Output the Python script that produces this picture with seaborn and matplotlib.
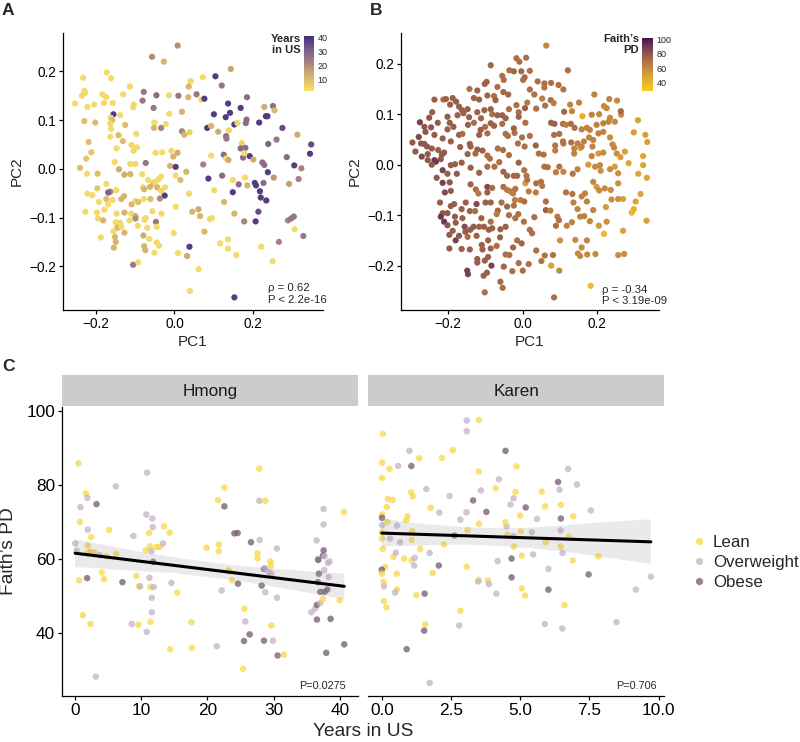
import numpy as np
import pandas as pd
import matplotlib
matplotlib.use("Agg")
import matplotlib.pyplot as plt
import seaborn as sns
from matplotlib.colors import LinearSegmentedColormap, Normalize
from matplotlib.cm import ScalarMappable
from matplotlib.lines import Line2D
from matplotlib.ticker import FuncFormatter

# ---------------- data: panel A (PCoA coloured by years in US) ----------------
pc1_a = [0.008, -0.057, -0.027, 0.143, -0.172, -0.232, -0.161, 0.072, 0.104, 0.041,
         0.036, 0.120, -0.113, -0.229, -0.227, -0.078, -0.235, -0.183, -0.173, -0.130,
         -0.046, -0.014, 0.010, 0.035, 0.056, 0.068, 0.076, 0.184, -0.253, -0.221,
         -0.204, -0.179, -0.157, -0.105, -0.103, -0.081, -0.053, 0.019, -0.013, -0.155,
         -0.138, -0.162, -0.158, -0.229, -0.201, -0.163, -0.125, -0.161, -0.163, -0.142,
         -0.097, -0.051, -0.052, -0.034, -0.022, 0.100, 0.136, 0.168, 0.141, 0.130,
         0.152, 0.160, 0.183, 0.181, 0.228, 0.250, 0.254, 0.232, 0.236, 0.215,
         0.274, 0.083, 0.093, 0.111, 0.138, 0.019, 0.025, 0.038, 0.131, 0.132,
         0.171, 0.168, 0.180, 0.238, 0.259, 0.312, 0.347, 0.344, -0.218, -0.131,
         -0.109, -0.095, -0.147, -0.104, -0.211, -0.224, -0.073, -0.048, -0.031, -0.008,
         0.008, -0.003, -0.112, -0.099, -0.240, -0.152, -0.141, -0.127, -0.112, -0.222,
         -0.195, -0.011, 0.003, 0.030, 0.003, 0.015, -0.082, -0.067, -0.053, -0.049,
         -0.040, -0.034, -0.044, -0.034, -0.025, -0.024, 0.073, 0.093, 0.125, 0.131,
         0.137, 0.174, 0.177, 0.191, 0.200, 0.223, 0.228, 0.237, 0.252, 0.285,
         0.304, 0.322, 0.315, 0.291, 0.086, 0.121, 0.148, 0.179, 0.185, 0.163,
         0.148, 0.204, 0.207, 0.226, 0.217, 0.219, 0.233, 0.101, 0.037, 0.126,
         -0.080, -0.077, -0.062, -0.221, -0.209, -0.196, -0.173, -0.169, -0.163, -0.168,
         -0.148, -0.128, -0.135, -0.157, -0.192, -0.173, -0.168, -0.109, -0.099, -0.092,
         -0.078, -0.061, -0.037, -0.226, -0.197, -0.178, -0.147, -0.127, -0.110, -0.099,
         -0.099, -0.073, -0.056, -0.033, 0.003, 0.045, 0.061, 0.065, 0.095, 0.090,
         0.152, 0.213, 0.206, 0.177, -0.194, -0.181, -0.149, -0.138, -0.114, -0.076,
         -0.047, -0.045, -0.069, -0.093, -0.145, -0.135, -0.127, -0.155, -0.187, -0.151,
         -0.149, -0.079, -0.064, -0.045, -0.039, -0.077, -0.074, -0.051, -0.154, -0.002,
         0.076, 0.136, 0.116, 0.136, 0.157, 0.220, 0.265, 0.288, 0.296, 0.303,
         0.305, 0.327, 0.009, 0.032, 0.038, -0.105, -0.092, 0.061, 0.039, 0.152,
         0.249]
pc2_a = [0.253, 0.230, 0.220, 0.205, 0.198, 0.187, 0.186, 0.188, 0.190, 0.180,
         0.169, 0.171, 0.169, 0.160, 0.156, 0.158, 0.150, 0.153, 0.147, 0.153,
         0.151, 0.151, 0.150, 0.147, 0.153, 0.142, 0.144, 0.147, 0.134, 0.127,
         0.132, 0.135, 0.135, 0.126, 0.132, 0.140, 0.125, 0.117, 0.113, 0.112,
         0.110, 0.105, 0.100, 0.098, 0.095, 0.093, 0.090, 0.082, 0.066, 0.069,
         0.072, 0.095, 0.084, 0.084, 0.092, 0.112, 0.134, 0.125, 0.115, 0.106,
         0.091, 0.094, 0.101, 0.094, 0.127, 0.129, 0.120, 0.108, 0.108, 0.095,
         0.084, 0.084, 0.088, 0.076, 0.079, 0.077, 0.070, 0.075, 0.067, 0.062,
         0.053, 0.042, 0.043, 0.051, 0.060, 0.070, 0.050, 0.031, 0.055, 0.057,
         0.049, 0.044, 0.042, 0.037, 0.034, 0.021, 0.012, 0.033, 0.034, 0.037,
         0.033, 0.025, 0.010, 0.010, 0.002, 0.014, -0.001, -0.012, -0.011, -0.010,
         -0.010, 0.006, 0.004, -0.006, -0.014, -0.023, -0.011, -0.023, -0.029, -0.027,
         -0.021, -0.016, -0.038, -0.045, -0.055, -0.038, 0.009, 0.027, 0.029, 0.021,
         0.018, 0.023, 0.032, 0.026, 0.019, 0.013, 0.008, -0.007, -0.018, 0.024,
         0.007, 0.001, -0.021, -0.031, -0.020, -0.014, -0.023, -0.018, -0.034, -0.032,
         -0.048, -0.029, -0.034, -0.029, -0.046, -0.059, -0.065, -0.044, -0.051, -0.068,
         -0.038, -0.042, -0.037, -0.051, -0.054, -0.040, -0.031, -0.047, -0.047, -0.049,
         -0.044, -0.056, -0.062, -0.064, -0.068, -0.062, -0.073, -0.073, -0.066, -0.068,
         -0.062, -0.062, -0.061, -0.088, -0.090, -0.084, -0.092, -0.090, -0.092, -0.097,
         -0.102, -0.101, -0.087, -0.092, -0.078, -0.088, -0.083, -0.097, -0.101, -0.103,
         -0.092, -0.088, -0.108, -0.108, -0.102, -0.106, -0.110, -0.111, -0.106, -0.105,
         -0.109, -0.119, -0.121, -0.117, -0.121, -0.119, -0.131, -0.128, -0.141, -0.140,
         -0.150, -0.137, -0.144, -0.151, -0.158, -0.159, -0.167, -0.172, -0.162, -0.132,
         -0.129, -0.145, -0.153, -0.164, -0.177, -0.160, -0.150, -0.106, -0.102, -0.098,
         -0.124, -0.138, -0.173, -0.179, -0.160, -0.197, -0.192, -0.206, -0.251, -0.264,
         -0.190]
years_a = [20, 20, 12, 15, 3, 3, 3, 3, 38, 4,
           12, 25, 3, 3, 3, 25, 3, 3, 3, 3,
           28, 3, 25, 12, 25, 3, 38, 28, 3, 3,
           3, 3, 3, 3, 3, 25, 25, 12, 3, 38,
           3, 3, 10, 10, 10, 3, 10, 3, 3, 10,
           3, 3, 12, 22, 3, 38, 38, 38, 38, 38,
           38, 4, 28, 28, 14, 28, 12, 38, 38, 38,
           35, 38, 12, 14, 4, 22, 12, 5, 28, 25,
           4, 28, 28, 30, 25, 14, 35, 38, 10, 10,
           3, 3, 3, 3, 8, 8, 25, 3, 3, 3,
           14, 12, 3, 3, 10, 3, 14, 14, 12, 3,
           10, 12, 38, 12, 3, 10, 3, 3, 10, 3,
           3, 3, 12, 4, 38, 3, 22, 3, 28, 3,
           14, 28, 3, 38, 14, 28, 28, 38, 18, 28,
           38, 22, 22, 16, 38, 28, 3, 3, 12, 28,
           38, 38, 38, 28, 38, 38, 38, 3, 3, 12,
           3, 12, 12, 3, 3, 8, 3, 3, 22, 30,
           3, 12, 12, 3, 3, 10, 3, 12, 3, 10,
           3, 10, 20, 3, 3, 3, 3, 12, 3, 12,
           20, 3, 3, 3, 3, 12, 14, 12, 3, 3,
           12, 35, 38, 22, 3, 12, 3, 3, 3, 3,
           25, 3, 3, 3, 12, 3, 12, 3, 3, 12,
           12, 14, 3, 3, 3, 12, 12, 3, 12, 3,
           12, 3, 3, 3, 3, 3, 22, 22, 25, 25,
           3, 25, 3, 14, 38, 25, 3, 3, 3, 38,
           3]

# ---------------- data: panel B (PCoA coloured by Faith's PD) ----------------
pc1_b = [0.063, -0.017, 0.009, -0.009, -0.086, 0.121, -0.036, -0.024, -0.004, 0.019,
         -0.055, 0.005, 0.001, -0.051, -0.097, -0.102, 0.040, 0.058, 0.058, 0.076,
         0.096, -0.143, -0.122, -0.068, -0.052, -0.039, 0.019, 0.109, 0.192, -0.077,
         -0.095, -0.073, -0.131, -0.117, -0.188, -0.237, -0.213, -0.206, -0.179, 0.031,
         0.052, 0.075, 0.151, 0.232, 0.253, 0.127, 0.218, 0.225, -0.195, -0.171,
         -0.163, -0.148, -0.122, -0.103, -0.086, -0.082, -0.068, -0.055, -0.037, -0.017,
         0.012, 0.006, 0.036, 0.060, 0.083, -0.243, -0.202, -0.175, -0.159, -0.144,
         -0.112, -0.046, -0.011, -0.011, 0.111, 0.132, 0.160, 0.185, 0.205, 0.234,
         0.264, 0.263, 0.309, -0.276, -0.251, -0.228, -0.196, -0.186, -0.147, -0.131,
         -0.113, -0.101, -0.086, -0.077, -0.055, -0.024, 0.007, 0.076, 0.085, 0.108,
         0.116, 0.129, 0.139, 0.158, 0.172, 0.180, 0.198, 0.216, 0.230, 0.247,
         -0.264, -0.246, -0.261, -0.237, -0.215, -0.202, -0.171, -0.162, -0.117, -0.095,
         -0.046, -0.040, -0.022, -0.002, 0.019, 0.084, 0.098, 0.108, 0.130, 0.147,
         0.154, 0.164, 0.178, 0.189, 0.203, 0.216, 0.234, 0.298, 0.329, 0.334,
         -0.296, -0.279, -0.273, -0.264, -0.257, -0.288, -0.271, -0.255, -0.244, -0.227,
         -0.217, -0.211, -0.193, -0.168, -0.142, -0.140, -0.122, -0.127, -0.108, -0.148,
         -0.095, -0.088, -0.067, -0.053, -0.037, -0.013, 0.005, 0.035, 0.043, 0.056,
         0.087, 0.087, 0.109, 0.138, 0.138, 0.158, 0.187, 0.185, 0.203, 0.216,
         0.241, 0.245, 0.252, 0.274, 0.262, 0.323, -0.255, -0.237, -0.233, -0.220,
         -0.244, -0.215, -0.193, -0.182, -0.164, -0.202, -0.177, -0.140, -0.117, -0.095,
         -0.076, -0.063, -0.011, 0.004, -0.052, -0.042, -0.024, -0.015, 0.010, 0.058,
         0.067, 0.089, 0.098, 0.109, 0.134, 0.147, 0.176, 0.194, 0.207, 0.209,
         0.234, 0.256, 0.247, 0.284, 0.323, 0.310, 0.333, -0.231, -0.215, -0.196,
         -0.140, -0.126, -0.119, -0.095, -0.095, -0.082, -0.052, -0.042, -0.033, -0.026,
         -0.020, 0.007, 0.012, 0.036, 0.049, 0.052, 0.016, 0.035, -0.006, 0.004,
         -0.021, -0.024, -0.042, -0.057, -0.086, -0.100, -0.124, -0.153, -0.164, -0.184,
         -0.193, -0.222, -0.209, -0.193, -0.215, -0.220, -0.211, -0.202, -0.182, -0.162,
         -0.142, -0.128, -0.111, -0.086, -0.067, -0.070, -0.037, -0.020, -0.012, 0.003,
         0.031, 0.062, 0.062, 0.074, 0.093, 0.097, 0.089, 0.116, 0.133, 0.136,
         0.147, 0.167, 0.172, 0.189, 0.189, 0.198, 0.205, 0.220, 0.236, 0.256,
         0.269, 0.256, 0.238, 0.223, 0.225, 0.204, 0.180, 0.165, 0.154, 0.132,
         0.118, 0.158, 0.303, 0.298, 0.292, 0.316, 0.332, 0.269, 0.218, -0.202,
         -0.180, -0.156, -0.154, -0.141, -0.132, -0.117, -0.104, -0.091, -0.060, -0.046,
         -0.061, -0.082, -0.124, -0.148, -0.188, -0.197, -0.180, -0.171, -0.197, -0.164,
         -0.142, -0.110, -0.108, -0.093, -0.086, -0.070, -0.046, -0.036, -0.026, -0.015,
         -0.003, 0.019, 0.025, 0.036, 0.059, 0.081, 0.050, 0.100, 0.141, 0.148,
         0.154, 0.158, 0.172, 0.173, 0.195, 0.256, 0.272, 0.076, 0.098, 0.016,
         -0.011, 0.000, -0.028, -0.051, -0.093, -0.102, -0.084, -0.122, -0.122, -0.149,
         -0.147, -0.105, -0.096, -0.060, -0.054, -0.102, 0.084, 0.182]
pc2_b = [0.236, 0.211, 0.212, 0.204, 0.197, 0.187, 0.187, 0.185, 0.185, 0.186,
         0.176, 0.173, 0.168, 0.168, 0.164, 0.160, 0.165, 0.161, 0.153, 0.162,
         0.158, 0.150, 0.147, 0.154, 0.144, 0.139, 0.149, 0.149, 0.139, 0.136,
         0.137, 0.128, 0.132, 0.129, 0.132, 0.129, 0.129, 0.130, 0.125, 0.139,
         0.131, 0.128, 0.123, 0.130, 0.127, 0.119, 0.116, 0.112, 0.119, 0.115,
         0.108, 0.110, 0.104, 0.108, 0.110, 0.100, 0.098, 0.098, 0.110, 0.118,
         0.123, 0.112, 0.111, 0.117, 0.122, 0.104, 0.095, 0.098, 0.102, 0.094,
         0.092, 0.092, 0.104, 0.095, 0.105, 0.106, 0.096, 0.099, 0.100, 0.093,
         0.099, 0.106, 0.088, 0.084, 0.093, 0.083, 0.083, 0.075, 0.079, 0.083,
         0.069, 0.075, 0.082, 0.077, 0.081, 0.072, 0.083, 0.083, 0.081, 0.081,
         0.079, 0.081, 0.073, 0.070, 0.073, 0.069, 0.079, 0.082, 0.085, 0.085,
         0.075, 0.074, 0.065, 0.059, 0.052, 0.070, 0.059, 0.061, 0.059, 0.062,
         0.061, 0.057, 0.063, 0.054, 0.057, 0.059, 0.061, 0.046, 0.044, 0.042,
         0.033, 0.046, 0.054, 0.049, 0.062, 0.065, 0.054, 0.064, 0.059, 0.045,
         0.044, 0.055, 0.042, 0.041, 0.036, 0.026, 0.016, 0.021, 0.032, 0.029,
         0.020, 0.024, 0.046, 0.035, 0.041, 0.036, 0.030, 0.022, 0.028, 0.021,
         0.018, 0.012, 0.032, 0.029, 0.019, 0.042, 0.036, 0.038, 0.022, 0.020,
         0.038, 0.028, 0.042, 0.032, 0.022, 0.036, 0.036, 0.017, 0.022, 0.024,
         0.040, 0.034, 0.022, 0.026, 0.015, 0.017, 0.009, 0.009, 0.006, 0.011,
         0.000, -0.011, -0.001, 0.001, 0.004, -0.018, -0.018, -0.006, -0.016, -0.004,
         -0.004, 0.005, 0.004, -0.011, -0.014, -0.022, -0.022, -0.022, -0.022, -0.004,
         -0.005, -0.015, -0.004, -0.014, -0.018, -0.009, 0.000, -0.004, -0.001, -0.012,
         -0.009, -0.017, -0.004, 0.003, -0.001, -0.018, -0.026, -0.026, -0.036, -0.035,
         -0.039, -0.049, -0.057, -0.044, -0.055, -0.046, -0.044, -0.050, -0.053, -0.057,
         -0.048, -0.037, -0.030, -0.037, -0.034, -0.042, -0.053, -0.055, -0.070, -0.073,
         -0.070, -0.081, -0.083, -0.075, -0.075, -0.075, -0.078, -0.075, -0.088, -0.078,
         -0.082, -0.075, -0.055, -0.052, -0.096, -0.103, -0.113, -0.096, -0.103, -0.106,
         -0.092, -0.092, -0.106, -0.113, -0.091, -0.098, -0.100, -0.106, -0.098, -0.113,
         -0.104, -0.073, -0.090, -0.091, -0.103, -0.110, -0.121, -0.055, -0.058, -0.075,
         -0.088, -0.057, -0.073, -0.090, -0.034, -0.044, -0.051, -0.047, -0.050, -0.037,
         -0.068, -0.068, -0.069, -0.084, -0.113, -0.121, -0.112, -0.102, -0.103, -0.114,
         -0.121, -0.063, -0.073, -0.088, -0.095, -0.058, -0.111, -0.131, -0.137, -0.120,
         -0.115, -0.123, -0.133, -0.129, -0.123, -0.123, -0.123, -0.129, -0.128, -0.123,
         -0.144, -0.126, -0.141, -0.143, -0.131, -0.139, -0.150, -0.141, -0.166, -0.167,
         -0.168, -0.159, -0.168, -0.150, -0.166, -0.161, -0.178, -0.179, -0.164, -0.150,
         -0.156, -0.129, -0.136, -0.170, -0.180, -0.179, -0.191, -0.150, -0.149, -0.176,
         -0.181, -0.164, -0.150, -0.178, -0.177, -0.179, -0.177, -0.200, -0.210, -0.197,
         -0.195, -0.210, -0.211, -0.202, -0.183, -0.190, -0.200, -0.187, -0.194, -0.210,
         -0.217, -0.220, -0.214, -0.232, -0.244, -0.253, -0.263, -0.240]
pd_b = [62, 70, 70, 70, 74, 70, 70, 74, 74, 70,
        70, 74, 70, 70, 76, 76, 70, 70, 68, 70,
        70, 70, 76, 70, 74, 74, 70, 68, 62, 71,
        74, 76, 76, 76, 76, 76, 71, 76, 77, 70,
        64, 70, 62, 62, 60, 62, 60, 60, 77, 77,
        77, 76, 76, 76, 76, 71, 76, 76, 71, 70,
        66, 76, 70, 70, 64, 78, 78, 77, 77, 77,
        76, 76, 71, 76, 74, 62, 44, 62, 60, 60,
        58, 73, 50, 88, 80, 78, 78, 78, 77, 71,
        77, 71, 76, 76, 71, 76, 70, 76, 76, 70,
        64, 70, 70, 62, 62, 62, 62, 62, 62, 60,
        80, 80, 80, 78, 78, 77, 77, 71, 76, 71,
        70, 70, 70, 70, 70, 70, 70, 70, 70, 64,
        46, 62, 62, 62, 62, 62, 60, 52, 50, 50,
        80, 85, 80, 80, 80, 80, 85, 80, 78, 78,
        80, 80, 77, 77, 77, 76, 76, 73, 76, 77,
        71, 70, 70, 70, 70, 70, 70, 76, 70, 70,
        68, 64, 68, 62, 62, 62, 62, 62, 54, 60,
        60, 60, 58, 50, 52, 48, 80, 91, 91, 80,
        80, 88, 78, 78, 77, 78, 78, 77, 77, 71,
        71, 71, 76, 68, 74, 74, 74, 74, 68, 70,
        70, 64, 68, 62, 68, 62, 52, 60, 60, 58,
        58, 58, 52, 48, 48, 48, 48, 80, 88, 80,
        76, 71, 66, 85, 76, 71, 71, 66, 64, 64,
        68, 52, 68, 70, 70, 66, 64, 64, 64, 70,
        64, 70, 74, 71, 76, 76, 85, 77, 77, 77,
        78, 78, 85, 78, 80, 91, 91, 80, 78, 77,
        76, 71, 76, 71, 74, 66, 70, 70, 70, 70,
        70, 70, 76, 64, 64, 70, 70, 68, 68, 62,
        62, 62, 62, 62, 60, 54, 60, 60, 58, 58,
        50, 58, 58, 52, 58, 54, 60, 62, 62, 62,
        62, 62, 48, 42, 40, 48, 50, 50, 38, 80,
        78, 85, 78, 78, 78, 77, 77, 77, 76, 76,
        76, 76, 77, 71, 78, 78, 88, 80, 78, 77,
        77, 77, 77, 76, 76, 71, 71, 71, 74, 71,
        74, 70, 70, 70, 68, 68, 68, 56, 60, 60,
        60, 60, 62, 60, 60, 58, 58, 50, 60, 70,
        70, 70, 71, 74, 77, 77, 88, 78, 78, 88,
        88, 77, 77, 74, 71, 71, 70, 36]

# ---------------- data: panel C (Faith's PD vs years in US) ----------------
hmong_years = [0.55, 0.85, 0.75, 1.66, 1.91, 3.27, 1.96, 2.46, 1.96, 2.26,
               2.76, 0.05, 0.25, 1.86, 3.07, 3.77, 0.65, 1.86, 1.21, 2.36,
               3.17, 4.07, 4.42, 4.82, 5.18, 6.18, 6.23, 7.19, 8.84, 9.30,
               9.70, 9.85, 8.59, 9.60, 10.80, 11.21, 11.71, 11.76, 11.31, 11.56,
               10.70, 11.81, 11.26, 11.41, 11.91, 11.61, 11.61, 11.41, 10.85, 10.90,
               12.31, 12.86, 13.32, 13.47, 14.32, 14.57, 15.43, 14.37, 17.59, 17.64,
               19.90, 21.61, 21.71, 21.71, 22.56, 22.56, 23.37, 23.17, 22.16, 21.41,
               23.72, 24.07, 24.57, 24.62, 25.58, 25.73, 26.38, 25.53, 25.38, 26.58,
               27.54, 27.59, 27.89, 27.84, 27.84, 28.74, 28.54, 28.69, 28.19, 28.74,
               28.54, 29.25, 29.50, 29.60, 29.65, 29.65, 29.90, 30.50, 30.50, 30.60,
               31.56, 35.68, 36.28, 36.53, 36.48, 36.68, 36.73, 36.83, 36.68, 37.04,
               37.04, 36.53, 37.54, 37.54, 37.54, 37.44, 37.69, 37.64, 37.69, 37.44,
               38.19, 38.29, 38.09, 38.44, 38.59, 37.94, 39.95, 40.60, 40.65]
hmong_pd = [85.7, 73.9, 69.9, 77.6, 76.4, 74.7, 67.8, 65.8, 63.5, 61.7,
            61.7, 64.1, 62.1, 61.4, 61.4, 60.9, 54.1, 54.7, 44.7, 42.3,
            28.1, 56.2, 54.4, 60.6, 67.7, 79.5, 61.2, 53.6, 66.1, 55.3,
            52.5, 52.5, 42.3, 42.1, 71.9, 66.9, 70.8, 68.5, 63.3, 62.0,
            62.2, 59.1, 54.8, 52.3, 52.3, 49.4, 45.5, 42.9, 40.2, 83.2,
            63.1, 63.2, 64.1, 68.7, 67.0, 53.4, 50.8, 35.5, 42.8, 35.9,
            62.9, 75.8, 63.8, 62.0, 79.2, 74.1, 56.5, 56.8, 51.4, 36.3,
            54.1, 66.8, 66.9, 53.2, 46.4, 43.0, 39.5, 37.7, 30.2, 64.4,
            61.4, 60.0, 65.0, 75.6, 84.3, 75.6, 57.2, 57.4, 52.7, 50.9,
            37.8, 56.4, 59.2, 58.1, 55.9, 41.9, 37.8, 62.7, 49.4, 33.8,
            34.0, 45.5, 46.5, 47.5, 64.9, 59.9, 59.6, 55.9, 53.6, 51.0,
            48.0, 43.5, 73.4, 69.2, 62.2, 60.8, 60.6, 56.9, 51.0, 49.1,
            58.8, 55.0, 51.6, 59.2, 43.7, 34.5, 48.7, 72.6, 36.8]
hmong_bmi = list("LOLLOBOLLO" "LOOLLOLBLL" "OLLLLOLBOL" "LOOLOLOOLO"
                 "LBOLOOOLOO" "LLOLLOLLLL" "LLLLLBLLOO" "LBBBLOBBLB"
                 "LLOOLLBOBO" "BOLLOLOOOB" "LOOBOOBBBB" "OBOOBBOOBL" "OOBOBBLLB")

karen_years = [0.04, 0.01, 0.01, 0.28, 0.59, 1.00, 1.07, 1.35, 2.18, 2.57,
               3.07, 3.07, 3.51, 4.47, 3.51, 4.87, 4.23, 4.11, 3.58, 1.61,
               2.45, 1.06, 1.12, 0.22, 0.39, 0.18, 0.01, 0.01, 0.01, 0.00,
               0.01, 0.04, 0.20, 0.55, 0.30, 0.66, 0.88, 0.93, 1.10, 1.08,
               1.77, 2.08, 2.84, 3.06, 3.30, 3.78, 3.51, 3.10, 2.63, 2.25,
               1.39, 1.73, 1.08, 1.19, 1.17, 0.81, 0.42, 0.51, 0.12, 0.00,
               0.01, 0.54, 0.07, 0.08, 0.55, 0.48, 0.08, 0.17, 1.25, 1.55,
               1.84, 2.06, 3.07, 3.51, 3.48, 3.84, 3.87, 2.84, 2.80, 1.57,
               1.53, 0.90, 1.73, 4.14, 4.19, 4.69, 4.69, 5.06, 5.06, 5.18,
               5.47, 4.77, 4.54, 4.76, 5.02, 4.51, 4.46, 4.65, 4.76, 4.83,
               5.20, 5.00, 5.61, 5.90, 5.78, 6.42, 6.37, 6.73, 7.05, 6.47,
               6.47, 6.92, 6.46, 5.92, 6.76, 6.46, 6.53, 6.90, 6.02, 6.02,
               6.60, 5.89, 6.52, 7.47, 7.55, 7.82, 8.48, 9.18, 9.72, 5.42]
karen_pd = [93.7, 85.9, 81.8, 84.2, 85.0, 89.1, 85.0, 87.1, 87.2, 89.3,
            97.3, 94.4, 97.4, 89.1, 83.5, 84.9, 81.4, 79.0, 78.4, 78.8,
            76.9, 77.9, 76.8, 76.1, 75.8, 73.9, 71.9, 71.0, 69.0, 67.1,
            65.4, 62.6, 69.9, 68.9, 65.4, 64.4, 70.4, 71.4, 67.4, 65.0,
            73.7, 72.4, 70.5, 72.5, 75.7, 72.6, 69.4, 67.7, 66.2, 63.8,
            62.6, 61.5, 59.5, 60.2, 58.1, 60.0, 60.4, 61.6, 57.7, 57.0,
            55.9, 55.9, 53.7, 52.5, 51.6, 50.8, 48.5, 46.8, 50.1, 50.5,
            56.1, 58.1, 57.8, 54.2, 53.8, 54.1, 53.1, 45.9, 41.9, 42.2,
            40.5, 35.5, 26.4, 50.5, 59.3, 60.0, 54.9, 60.8, 51.9, 50.0,
            61.1, 63.2, 66.4, 66.0, 67.3, 68.7, 69.8, 74.6, 76.3, 78.0,
            73.8, 71.6, 70.7, 74.1, 78.1, 78.6, 80.7, 84.2, 80.0, 74.5,
            70.8, 71.4, 67.6, 64.4, 65.9, 63.3, 61.5, 59.5, 57.2, 51.6,
            47.4, 42.3, 41.1, 55.7, 73.0, 60.6, 42.8, 51.6, 55.1, 67.1]
karen_bmi = list("LLLLOOBLLL" "OOLBLLOLOO" "OLLLLLLBOL" "LLLOOOLLLL"
                 "LOOOBBLLBL" "LOLOOLLOLB" "LLLOLOLLLB" "LBLLOLOLOL"
                 "BBOOOBBLLL" "OLLOLOLOOL" "BLOLLOBOOL" "BLOLLLOLOB" "LOOBOLOOOO")

bmi_names = {"L": "Lean", "O": "Overweight", "B": "Obese"}
bmi_order = ["Lean", "Overweight", "Obese"]
bmi_colors = {"Lean": "#F9D845", "Overweight": "#C3B2C8", "Obese": "#735870"}

# ---------------- style ----------------
sns.set_style("ticks")
plt.rcParams["font.family"] = ["Liberation Sans", "DejaVu Sans"]
plt.rcParams["axes.unicode_minus"] = True

W, H = 800, 742
fig = plt.figure(figsize=(W / 100, H / 100), dpi=100)


def px_axes(l, t, r, b):
    return fig.add_axes([l / W, 1 - b / H, (r - l) / W, (b - t) / H])


def style_axes(ax, size, left=True):
    for s in ["top", "right"]:
        ax.spines[s].set_visible(False)
    for s in ["left", "bottom"]:
        ax.spines[s].set_linewidth(0.9)
        ax.spines[s].set_color("black")
    ax.spines["left"].set_visible(left)
    ax.tick_params(length=2.9, width=0.9, labelsize=size, pad=2, colors="black")
    if not left:
        ax.tick_params(axis="y", left=False, labelleft=False)


def fmt1(v, pos=None):
    return f"{v:.1f}".replace("-", "\u2212")


def fmt0(v, pos=None):
    return f"{v:.0f}"


def pad_lim(vals, frac=0.05):
    lo, hi = min(vals), max(vals)
    r = hi - lo
    return lo - frac * r, hi + frac * r


cmapA = LinearSegmentedColormap.from_list(
    "yrs", ["#F7DE69", "#D8B86A", "#A8857C", "#7C5E8E", "#412C80"])
normA = Normalize(1.8, 41.2)
cmapB = LinearSegmentedColormap.from_list(
    "pd", [(0.0, "#F7CB1E"), (0.3, "#D9A03A"), (0.55, "#B07245"),
           (0.75, "#87504E"), (0.9, "#602E55"), (1.0, "#45144F")])
normB = Normalize(28.8, 101.9)

dfA = pd.DataFrame({"PC1": pc1_a, "PC2": pc2_a, "years": years_a})
dfB = pd.DataFrame({"PC1": pc1_b, "PC2": pc2_b, "pd": pd_b})

panels = [
    (dfA, "years", cmapA, normA, (63, 33, 323, 310), [10, 20, 30, 40],
     (304, 36, 314.3, 90.7), "Years\nin US", 301, "\u03c1 = 0.62\nP < 2.2e-16", 0.788, 0.058),
    (dfB, "pd", cmapB, normB, (400.7, 33, 659, 310), [40, 60, 80, 100],
     (642.3, 38.3, 653.3, 90.7), "Faith\u2019s\nPD", 639, "\u03c1 = -0.34\nP < 3.19e-09", 0.78, 0.053),
]

for df, hue, cmap, norm, box, cticks, cbox, ctitle, ctx, note, nx, ny in panels:
    ax = px_axes(*box)
    sns.scatterplot(data=df, x="PC1", y="PC2", hue=hue, palette=cmap, hue_norm=norm,
                    s=20, linewidth=0, legend=False, ax=ax)
    ax.set_xlim(*pad_lim(df["PC1"]))
    ax.set_ylim(*pad_lim(df["PC2"]))
    ax.set_xticks([-0.2, 0.0, 0.2])
    ax.set_yticks([-0.2, -0.1, 0.0, 0.1, 0.2])
    ax.xaxis.set_major_formatter(FuncFormatter(fmt1))
    ax.yaxis.set_major_formatter(FuncFormatter(fmt1))
    style_axes(ax, 9.8)
    ax.set_xlabel("PC1", fontsize=11, labelpad=3)
    ax.set_ylabel("PC2", fontsize=11, labelpad=4)
    ax.text(nx, ny, note, transform=ax.transAxes, ha="left", va="center",
            fontsize=8.2, linespacing=1.2)
    # colourbar
    cax = px_axes(*cbox)
    cb = fig.colorbar(ScalarMappable(norm=norm, cmap=cmap), cax=cax, ticks=cticks)
    cb.outline.set_visible(False)
    cax.tick_params(direction="in", length=2, width=0.6, color="white",
                    labelsize=6.5, pad=2.5, left=True, right=True)
    fig.text(ctx / W, 1 - 34 / H, ctitle, ha="right", va="top", fontsize=8.1,
             fontweight="bold", linespacing=1.15)

# ---------------- panel C ----------------
dfH = pd.DataFrame({"years": hmong_years, "pd": hmong_pd,
                    "bmi": [bmi_names[c] for c in hmong_bmi]})
dfK = pd.DataFrame({"years": karen_years, "pd": karen_pd,
                    "bmi": [bmi_names[c] for c in karen_bmi]})
ylimC = pad_lim(list(dfH["pd"]) + list(dfK["pd"]))

facets = [
    (dfH, "Hmong", (61.7, 407, 357.7, 696), [0, 10, 20, 30, 40], fmt0, True, "P=0.0275", 0.96),
    (dfK, "Karen", (368.3, 407, 664.3, 696), [0.0, 2.5, 5.0, 7.5, 10.0], fmt1, False, "P=0.706", 0.975),
]
for df, name, box, xt, fmt, left, note, nx in facets:
    ax = px_axes(*box)
    sns.scatterplot(data=df, x="years", y="pd", hue="bmi", hue_order=bmi_order,
                    palette=bmi_colors, alpha=0.75, s=22, linewidth=0,
                    legend=False, ax=ax)
    sns.regplot(data=df, x="years", y="pd", scatter=False, ax=ax, color="black",
                ci=95, seed=3, line_kws={"linewidth": 2.2})
    for coll in ax.collections[1:]:
        coll.set_facecolor("#9A9A9A")
        coll.set_alpha(0.2)
        coll.set_edgecolor("none")
    ax.set_xlim(*pad_lim(df["years"]))
    ax.set_ylim(*ylimC)
    ax.set_xticks(xt)
    ax.xaxis.set_major_formatter(FuncFormatter(fmt))
    ax.set_yticks([40, 60, 80, 100])
    ax.yaxis.set_major_formatter(FuncFormatter(fmt0))
    style_axes(ax, 12.4, left=left)
    ax.set_xlabel("")
    ax.set_ylabel("")
    ax.text(nx, 0.035, note, transform=ax.transAxes, ha="right", va="center", fontsize=7.8)
    # strip
    l, t, r, b = box
    sax = px_axes(l, 375, r, 406)
    sax.set_facecolor("#CCCCCC")
    for s in sax.spines.values():
        s.set_visible(False)
    sax.set_xticks([])
    sax.set_yticks([])
    sax.text(0.5, 0.47, name, transform=sax.transAxes, ha="center", va="center",
             fontsize=12.3, color="#1A1A1A")

fig.text(363 / W, 1 - 732 / H, "Years in US", ha="center", va="center", fontsize=13.8)
fig.text(9 / W, 1 - 551.5 / H, "Faith\u2019s PD", ha="center", va="center",
         rotation=90, fontsize=13.8)

handles = [Line2D([0], [0], marker="o", linestyle="", markersize=5.2,
                  markerfacecolor=bmi_colors[k], markeredgewidth=0, alpha=0.75)
           for k in bmi_order]
fig.legend(handles, bmi_order, loc="center left",
           bbox_to_anchor=(690.5 / W, 1 - 562.5 / H), frameon=False, fontsize=12.2,
           handlelength=1.0, handletextpad=0.32, labelspacing=0.32,
           borderpad=0, borderaxespad=0)

# panel letters
for letter, x, y in [("A", 2, 3), ("B", 370, 3), ("C", 2, 359)]:
    fig.text(x / W, 1 - y / H, letter, ha="left", va="top", fontsize=12.5,
             fontweight="bold")

fig.savefig("out.png", dpi=100)
